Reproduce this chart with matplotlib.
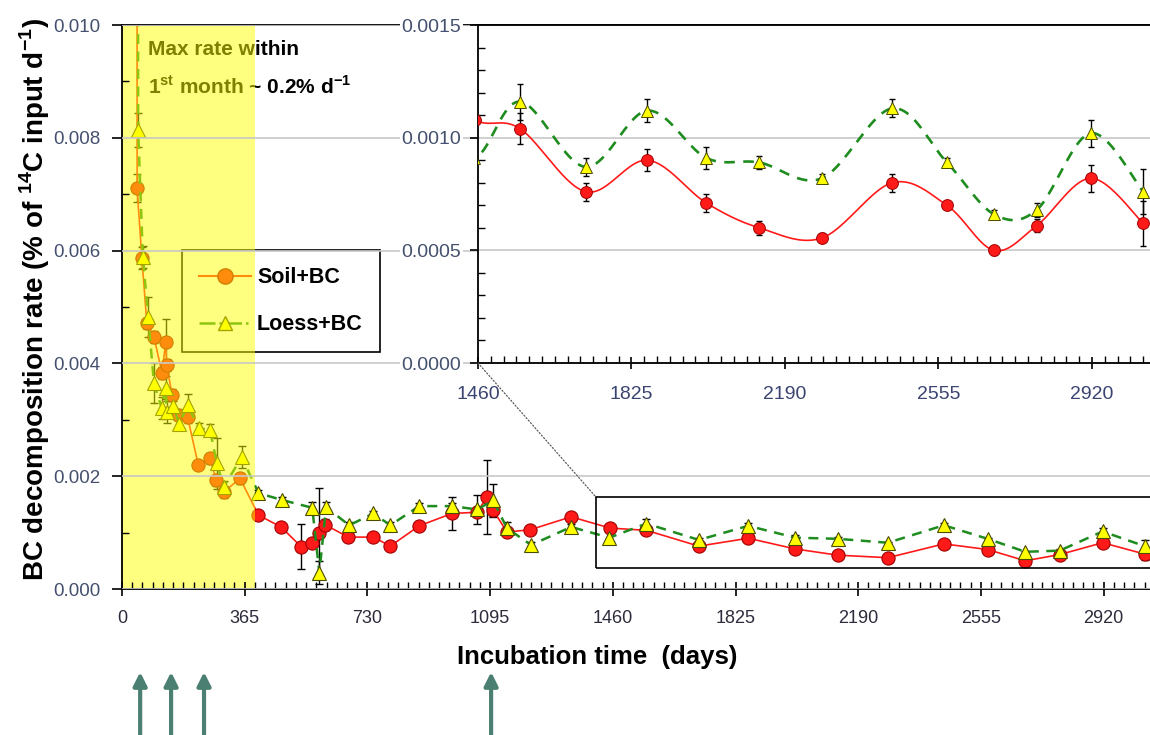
import numpy as np
import matplotlib
matplotlib.use("Agg")
import matplotlib.pyplot as plt
from matplotlib.ticker import MultipleLocator, FixedLocator, FormatStrFormatter
from matplotlib.patches import Rectangle, ConnectionPatch
from matplotlib.lines import Line2D

plt.rcParams['font.family'] = ['Liberation Sans', 'DejaVu Sans']
plt.rcParams['mathtext.fontset'] = 'custom'
plt.rcParams['mathtext.rm'] = 'Liberation Sans'
plt.rcParams['mathtext.bf'] = 'Liberation Sans:bold'

# %% data (days, rate in % of 14C input per day, error)
soil_days = [36, 45, 59, 74, 95, 119, 130, 133, 149, 168, 195, 227, 262, 280, 303, 351,
             406, 473, 533, 566, 586, 604, 673, 748, 798, 884, 982, 1056, 1086, 1104,
             1145, 1214, 1336, 1452, 1560, 1716, 1863, 2003, 2129, 2278, 2445, 2575,
             2687, 2789, 2917, 3042]
soil_rate = [0.2, 0.00711, 0.00587, 0.00471, 0.00447, 0.00383, 0.00438, 0.00397, 0.00344,
             0.00309, 0.00305, 0.00220, 0.00232, 0.00193, 0.00172, 0.00196,
             0.00131, 0.00110, 0.00075, 0.00081, 0.00099, 0.00114, 0.00092, 0.00092,
             0.00076, 0.00112, 0.00134, 0.00136, 0.00163, 0.00140,
             0.00101, 0.00105, 0.00128, 0.00108, 0.00104, 0.00076, 0.00090, 0.00071,
             0.00060, 0.000555, 0.00080, 0.00070, 0.00050, 0.00061, 0.00082, 0.00062]
soil_err = [0, 0.00025, 0.0002, 0.0001, 0.0001, 0.0001, 0.0004, 0.0001, 0.0001,
            0.0001, 0.0001, 0.00005, 0.0001, 0.0001, 0.0001, 0.0001,
            0.00005, 0.00005, 0.0004, 0.00005, 0.0008, 0.0001, 0.00005, 0.00005,
            0.00005, 0.00005, 0.0003, 0.00005, 0.00065, 0.0001,
            0.00005, 0.00005, 0.00005, 0.00005, 0.00007, 0.00004, 0.00005, 0.00004,
            0.00003, 0.00002, 0.00004, 0.00001, 0.00002, 0.00003, 0.00006, 0.0001]

loess_days = [36, 48, 62, 78, 95, 118, 130, 133, 153, 170, 195, 229, 262, 282, 303, 356,
              406, 475, 566, 587, 607, 676, 748, 798, 884, 982, 1056, 1104, 1145, 1217,
              1336, 1450, 1560, 1716, 1863, 2003, 2129, 2278, 2445, 2575, 2687, 2789,
              2917, 3042]
loess_rate = [0.2, 0.00814, 0.00589, 0.00482, 0.00365, 0.00321, 0.00357, 0.00314, 0.00324,
              0.00293, 0.00326, 0.00285, 0.00282, 0.00223, 0.00181, 0.00234,
              0.00170, 0.00158, 0.00144, 0.00029, 0.00145, 0.00113, 0.00134, 0.00113,
              0.00147, 0.00147, 0.00141, 0.00157, 0.00108, 0.00078,
              0.00110, 0.00091, 0.00116, 0.00087, 0.00112, 0.00091, 0.00089, 0.00082,
              0.00113, 0.00089, 0.00066, 0.00068, 0.00102, 0.00076]
loess_err = [0, 0.0003, 0.0002, 0.00035, 0.00035, 0.0002, 0.0002, 0.0002, 0.0001,
             0.0001, 0.0002, 0.0001, 0.0001, 0.00045, 0.0001, 0.0002,
             0.00005, 0.00005, 0.0001, 0.0002, 0.0001, 0.00005, 0.00005, 0.00005,
             0.00005, 0.00005, 0.00025, 0.0003, 0.0001, 0.00005,
             0.00005, 0.0001, 0.00008, 0.00004, 0.00005, 0.00005, 0.00003, 0.00002,
             0.00004, 0.00002, 0.00002, 0.00003, 0.00006, 0.0001]

shade_end = 395          # first-year window (days)
zoom_box = (1410, 0.00037, 0.00163)   # x start, y low, y high of the zoomed region
arrow_days = [54, 146, 244, 1098]

x_max = 3058
year = 365
tick_col = '#44506e'
red, red_edge = '#ff1a1a', '#a00000'
green = '#1e8c1e'


def smooth(x, y, n=25):
    # catmull-rom through the points, drawn as a smooth line
    x = np.asarray(x, float)
    y = np.asarray(y, float)
    px = np.concatenate([[x[0]], x, [x[-1]]])
    py = np.concatenate([[y[0]], y, [y[-1]]])
    xs, ys = [], []
    t = np.linspace(0, 1, n)
    for i in range(1, len(px) - 2):
        c1x = px[i] + (px[i + 1] - px[i - 1]) / 6
        c1y = py[i] + (py[i + 1] - py[i - 1]) / 6
        c2x = px[i + 1] - (px[i + 2] - px[i]) / 6
        c2y = py[i + 1] - (py[i + 2] - py[i]) / 6
        b0, b1, b2, b3 = (1 - t) ** 3, 3 * t * (1 - t) ** 2, 3 * t ** 2 * (1 - t), t ** 3
        xs.append(b0 * px[i] + b1 * c1x + b2 * c2x + b3 * px[i + 1])
        ys.append(b0 * py[i] + b1 * c1y + b2 * c2y + b3 * py[i + 1])
    return np.concatenate(xs), np.concatenate(ys)


# %% main axes
fig = plt.figure(figsize=(11.5, 7.35), dpi=100)
ax = fig.add_axes([122 / 1150, 146 / 735, 1028 / 1150, 564 / 735])

ax.errorbar(soil_days, soil_rate, yerr=soil_err, fmt='none', ecolor='black',
            elinewidth=1, capsize=3, capthick=1, zorder=2)
ax.plot(soil_days, soil_rate, color=red, lw=1.2, marker='o', ms=9.5,
        mfc=red, mec=red_edge, mew=0.8, zorder=3)
ax.errorbar(loess_days, loess_rate, yerr=loess_err, fmt='none', ecolor='black',
            elinewidth=1, capsize=3, capthick=1, zorder=2)
ax.plot(loess_days, loess_rate, color=green, lw=1.8, dashes=(4, 3), marker='^', ms=10,
        mfc='#ffff00', mec='#4a4a00', mew=0.8, zorder=4)

ax.axvspan(0, shade_end, color='yellow', alpha=0.5, lw=0, zorder=10)

ax.add_patch(Rectangle((zoom_box[0], zoom_box[1]), 2000, zoom_box[2] - zoom_box[1],
                       fill=False, ec='black', lw=1.2, zorder=5))

ax.text(77, 0.00957, 'Max rate within', fontsize=15, fontweight='bold', va='center', zorder=3)
ax.text(77, 0.00891, r'1$^{\mathbf{st}}$ month ~ 0.2% d$^{\mathbf{-1}}$', fontsize=15,
        fontweight='bold', va='center', zorder=3)

ax.set_xlim(0, x_max)
ax.set_ylim(0, 0.010)
ax.xaxis.set_major_locator(MultipleLocator(year))
ax.xaxis.set_minor_locator(MultipleLocator(year / 12))
ax.yaxis.set_major_locator(MultipleLocator(0.002))
ax.yaxis.set_minor_locator(MultipleLocator(0.001))
ax.yaxis.set_major_formatter(FormatStrFormatter('%.3f'))
ax.grid(axis='y', which='major', color='#c8c8c8', lw=1.2)
ax.tick_params(axis='x', which='major', direction='inout', length=10, width=1.2, pad=10,
               labelsize=13, labelcolor='#2c2c3c')
ax.tick_params(axis='x', which='minor', direction='in', length=5, width=1)
ax.tick_params(axis='y', which='major', direction='out', length=7, width=1.2, pad=8.5,
               labelsize=13.5, labelcolor=tick_col)
ax.tick_params(axis='y', which='minor', direction='in', length=5, width=1)
ax.spines['right'].set_visible(False)
for s in ax.spines.values():
    s.set_linewidth(1.3)
    s.set_zorder(20)
ax.xaxis.set_zorder(20)
ax.yaxis.set_zorder(20)

ax.set_xlabel('Incubation time  (days)', fontsize=18.5, fontweight='bold')
ax.xaxis.set_label_coords(0.462, -0.12)
ax.xaxis.label.set_va('center')
ax.set_ylabel(r'BC decomposition rate (% of $^{\mathbf{14}}$C input d$^{\mathbf{-1}}$)',
              fontsize=20, fontweight='bold')
ax.yaxis.set_label_coords(-0.085, 0.514)
ax.yaxis.label.set_va('center')

handles = [Line2D([], [], color=red, lw=1.5, marker='o', ms=11, mfc=red, mec=red_edge),
           Line2D([], [], color=green, lw=1.8, ls='-.', marker='^', ms=10,
                  mfc='#ffff00', mec='#4a4a00')]
leg = ax.legend(handles, ['Soil+BC', 'Loess+BC'], loc='upper left',
                bbox_to_anchor=(0.058, 0.601), prop={'size': 15.5, 'weight': 'bold'},
                frameon=True, fancybox=False, edgecolor='black', framealpha=1,
                handlelength=2.4, borderpad=0.8, labelspacing=1.2, handletextpad=0.3,
                borderaxespad=0)
leg.get_frame().set_linewidth(1.2)
leg.set_zorder(6)

# %% inset
ins = fig.add_axes([478 / 1150, 372 / 735, 672 / 1150, 338 / 735])
ins.set_facecolor('white')
sel = [i for i, d in enumerate(soil_days) if d >= 1300]
sx, sy = smooth([soil_days[i] for i in sel], [soil_rate[i] for i in sel])
ins.errorbar([soil_days[i] for i in sel], [soil_rate[i] for i in sel],
             yerr=[soil_err[i] for i in sel], fmt='none', ecolor='black',
             elinewidth=1, capsize=2.5, capthick=1, zorder=2)
ins.plot(sx, sy, color=red, lw=1.2, zorder=3)
ins.plot([soil_days[i] for i in sel], [soil_rate[i] for i in sel], ls='none', marker='o',
         ms=8.5, mfc=red, mec=red_edge, mew=0.7, zorder=4)
sel = [i for i, d in enumerate(loess_days) if d >= 1300]
lx, ly = smooth([loess_days[i] for i in sel], [loess_rate[i] for i in sel])
ins.errorbar([loess_days[i] for i in sel], [loess_rate[i] for i in sel],
             yerr=[loess_err[i] for i in sel], fmt='none', ecolor='black',
             elinewidth=1, capsize=2.5, capthick=1, zorder=2)
ins.plot(lx, ly, color=green, lw=1.9, dashes=(4, 3.2), zorder=3)
ins.plot([loess_days[i] for i in sel], [loess_rate[i] for i in sel], ls='none', marker='^',
         ms=8.5, mfc='#ffff00', mec='#4a4a00', mew=0.7, zorder=4)

ins.set_xlim(1460, x_max)
ins.set_ylim(0, 0.0015)
ins.xaxis.set_major_locator(FixedLocator([1460 + year * k for k in range(5)]))
ins.xaxis.set_minor_locator(FixedLocator([1460 + year / 12 * k for k in range(60)]))
ins.yaxis.set_major_locator(MultipleLocator(0.0005))
ins.yaxis.set_minor_locator(MultipleLocator(0.0001))
ins.yaxis.set_major_formatter(FormatStrFormatter('%.4f'))
ins.grid(axis='y', which='major', color='#c8c8c8', lw=1.2)
ins.tick_params(axis='x', which='major', direction='inout', length=9, width=1.2, pad=12,
                labelsize=14, labelcolor='#3b4470')
ins.tick_params(axis='x', which='minor', direction='in', length=5, width=1)
ins.tick_params(axis='y', which='major', direction='out', length=6, width=1.2, pad=6,
                labelsize=14, labelcolor=tick_col)
ins.tick_params(axis='y', which='minor', direction='in', length=5, width=1)
for lab in ins.get_yticklabels():
    lab.set_bbox(dict(facecolor='white', edgecolor='none', pad=1))
ins.spines['right'].set_visible(False)
for s in ins.spines.values():
    s.set_linewidth(1.3)

con = ConnectionPatch(xyA=(0, 0), coordsA=ins.transAxes,
                      xyB=(zoom_box[0], zoom_box[2]), coordsB=ax.transData,
                      color='0.35', lw=0.9, ls=':')
fig.add_artist(con)

# %% arrows under the axis
for d in arrow_days:
    ax.annotate('', xy=(d, 63 / 735), xycoords=('data', 'figure fraction'),
                xytext=(d, 0), textcoords=('data', 'figure fraction'),
                arrowprops=dict(arrowstyle='-|>', color='#4a7f72', lw=3,
                                mutation_scale=20, shrinkA=0, shrinkB=0),
                annotation_clip=False)

fig.savefig('out.png', dpi=100)
